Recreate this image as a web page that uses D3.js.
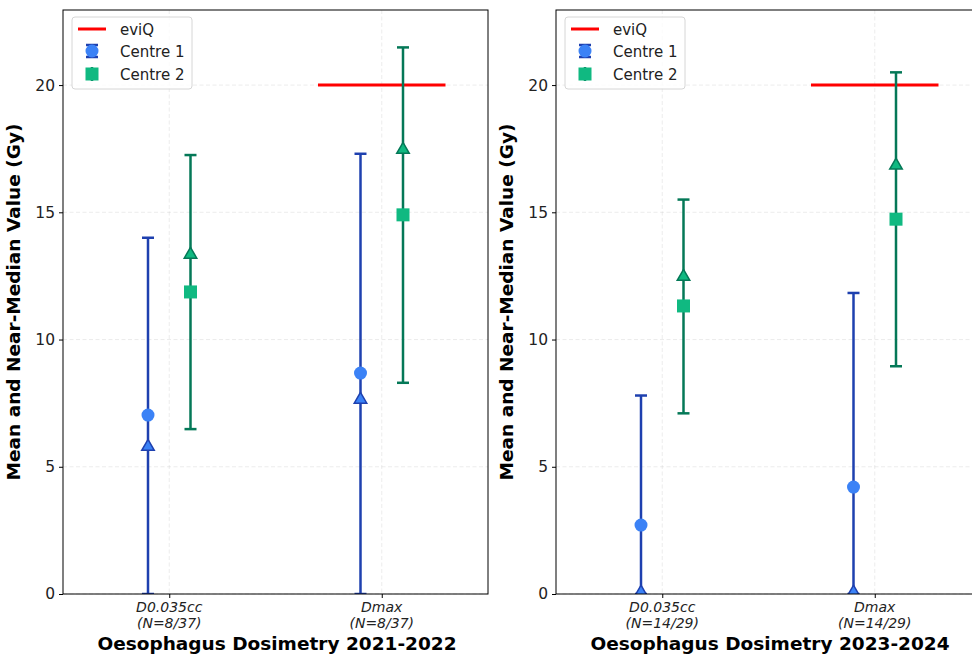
<!DOCTYPE html>
<html>
<head>
<meta charset="utf-8">
<script src="https://cdn.jsdelivr.net/npm/d3@7"></script>
<style>
  body { margin: 0; background: #fff; overflow: hidden; }
  svg { display: block; font-family: "DejaVu Sans", sans-serif; }
</style>
</head>
<body>
<svg id="chart" width="972" height="657"></svg>
<script>
// categories and labels
const categories = ["D0.035cc", "Dmax"];
const nLabels2122 = ["(N=8/37)", "(N=8/37)"];
const nLabels2324 = ["(N=14/29)", "(N=14/29)"];
const yTicks = [0, 5, 10, 15, 20];

// 2021-2022 values (Gy)
const c1Mean2122 = [7.03, 8.68];
const c1Median2122 = [5.85, 7.7];
const c1Low2122 = [0, 0];
const c1High2122 = [14.0, 17.3];
const c2Mean2122 = [11.87, 14.9];
const c2Median2122 = [13.4, 17.52];
const c2Low2122 = [6.48, 8.3];
const c2High2122 = [17.25, 21.48];

// 2023-2024 values (Gy)
const c1Mean2324 = [2.71, 4.2];
const c1Median2324 = [0.12, 0.12];
const c1Low2324 = [0, 0];
const c1High2324 = [7.8, 11.83];
const c2Mean2324 = [11.32, 14.73];
const c2Median2324 = [12.53, 16.9];
const c2Low2324 = [7.1, 8.95];
const c2High2324 = [15.5, 20.5];

// eviQ constraint (only for Dmax)
const eviQ = [null, 20];

const svg = d3.select("#chart");

const c1 = { fill: "#3b82f6", edge: "#1e40af" };
const c2 = { fill: "#10b981", edge: "#047857" };

function drawPanel(left, title, nLabels, s1, s2, id) {
  const top = 10, bottom = 594, width = 425;

  const x = d3.scaleLinear().domain([-0.5, 1.5]).range([left, left + width]);
  const y = d3.scaleLinear().domain([0, 22.95]).range([bottom, top]);

  const g = svg.append("g");

  g.append("clipPath").attr("id", "clip" + id)
    .append("rect")
    .attr("x", left).attr("y", top)
    .attr("width", width).attr("height", bottom - top);

  // grid
  g.selectAll(".gy").data(yTicks).join("line")
    .attr("x1", left).attr("x2", left + width)
    .attr("y1", d => y(d)).attr("y2", d => y(d))
    .attr("stroke", "#b0b0b0").attr("stroke-opacity", 0.3)
    .attr("stroke-dasharray", "4,2.5").attr("stroke-width", 0.8);
  g.selectAll(".gx").data(categories).join("line")
    .attr("x1", (d, i) => x(i)).attr("x2", (d, i) => x(i))
    .attr("y1", top).attr("y2", bottom)
    .attr("stroke", "#b0b0b0").attr("stroke-opacity", 0.3)
    .attr("stroke-dasharray", "4,2.5").attr("stroke-width", 0.8);

  const plot = g.append("g").attr("clip-path", `url(#clip${id})`);

  // eviQ line
  eviQ.forEach((v, i) => {
    if (v == null) return;
    plot.append("line")
      .attr("x1", x(i - 0.3)).attr("x2", x(i + 0.3))
      .attr("y1", y(v)).attr("y2", y(v))
      .attr("stroke", "red").attr("stroke-width", 3);
  });

  const series = [
    { s: s1, off: -0.1, col: c1, shape: "circle" },
    { s: s2, off: 0.1, col: c2, shape: "square" }
  ];

  series.forEach(({ s, off, col, shape }) => {
    categories.forEach((c, i) => {
      const cx = x(i + off);
      plot.append("line")
        .attr("x1", cx).attr("x2", cx)
        .attr("y1", y(s.low[i])).attr("y2", y(s.high[i]))
        .attr("stroke", col.edge).attr("stroke-width", 2.5);
      [s.low[i], s.high[i]].forEach(v => {
        plot.append("line")
          .attr("x1", cx - 6).attr("x2", cx + 6)
          .attr("y1", y(v)).attr("y2", y(v))
          .attr("stroke", col.edge).attr("stroke-width", 2.5);
      });
      if (shape === "circle") {
        plot.append("circle")
          .attr("cx", cx).attr("cy", y(s.mean[i])).attr("r", 6.5)
          .attr("fill", col.fill);
      } else {
        plot.append("rect")
          .attr("x", cx - 6.5).attr("y", y(s.mean[i]) - 6.5)
          .attr("width", 13).attr("height", 13)
          .attr("fill", col.fill);
      }
      plot.append("path")
        .attr("d", d3.symbol(d3.symbolTriangle, 68)())
        .attr("transform", `translate(${cx},${y(s.median[i]) + 1.5})`)
        .attr("fill", col.fill).attr("stroke", col.edge).attr("stroke-width", 1.5);
    });
  });

  // spines
  g.append("rect")
    .attr("x", left).attr("y", top)
    .attr("width", width).attr("height", bottom - top)
    .attr("fill", "none").attr("stroke", "#000").attr("stroke-width", 1);

  // y axis
  const yAxis = g.append("g")
    .attr("transform", `translate(${left},0)`)
    .call(d3.axisLeft(y).tickValues(yTicks).tickSize(4).tickPadding(4));
  yAxis.select(".domain").remove();
  yAxis.selectAll("text").attr("font-size", 15.5).attr("fill", "#222")
    .style("font-family", "DejaVu Sans");

  // x axis
  const xAxis = g.append("g")
    .attr("transform", `translate(0,${bottom})`)
    .call(d3.axisBottom(x).tickValues([0, 1]).tickSize(4).tickFormat(""));
  xAxis.select(".domain").remove();

  categories.forEach((c, i) => {
    const t = g.append("text")
      .attr("x", x(i)).attr("y", bottom + 18)
      .attr("text-anchor", "middle")
      .attr("font-size", 14).attr("font-style", "italic").attr("fill", "#222");
    t.append("tspan").attr("x", x(i)).text(c);
    t.append("tspan").attr("x", x(i)).attr("dy", 16).text(nLabels[i]);
  });

  g.append("text")
    .attr("x", left + 214).attr("y", 650)
    .attr("text-anchor", "middle")
    .attr("font-size", 18.5).attr("font-weight", "bold")
    .text(title);

  g.append("text")
    .attr("transform", `translate(${left - 43},${(top + bottom) / 2}) rotate(-90)`)
    .attr("text-anchor", "middle")
    .attr("font-size", 18.5).attr("font-weight", "bold")
    .text("Mean and Near-Median Value (Gy)");

  // legend
  const lg = g.append("g").attr("transform", `translate(${left + 9},17)`);
  lg.append("rect")
    .attr("width", 120).attr("height", 72).attr("rx", 3)
    .attr("fill", "#fff").attr("fill-opacity", 0.8)
    .attr("stroke", "#d6d6d6").attr("stroke-width", 1);
  lg.append("line")
    .attr("x1", 6).attr("x2", 34).attr("y1", 12).attr("y2", 12)
    .attr("stroke", "red").attr("stroke-width", 3);
  // Centre 1 handle
  lg.append("line").attr("x1", 20).attr("x2", 20).attr("y1", 28).attr("y2", 40)
    .attr("stroke", c1.edge).attr("stroke-width", 2.5);
  [28, 40].forEach(v => lg.append("line").attr("x1", 14).attr("x2", 26)
    .attr("y1", v).attr("y2", v).attr("stroke", c1.edge).attr("stroke-width", 2.5));
  lg.append("circle").attr("cx", 20).attr("cy", 34).attr("r", 6.5).attr("fill", c1.fill);
  // Centre 2 handle
  lg.append("line").attr("x1", 20).attr("x2", 20).attr("y1", 50).attr("y2", 64)
    .attr("stroke", c2.edge).attr("stroke-width", 2.5);
  lg.append("rect").attr("x", 13.5).attr("y", 50.5).attr("width", 13).attr("height", 13)
    .attr("fill", c2.fill);

  const names = ["eviQ", "Centre 1", "Centre 2"];
  names.forEach((n, i) => {
    lg.append("text")
      .attr("x", 48).attr("y", 17.5 + i * 22.5)
      .attr("font-size", 15).attr("fill", "#222")
      .text(n);
  });
}

drawPanel(63, "Oesophagus Dosimetry 2021-2022", nLabels2122,
  { mean: c1Mean2122, median: c1Median2122, low: c1Low2122, high: c1High2122 },
  { mean: c2Mean2122, median: c2Median2122, low: c2Low2122, high: c2High2122 }, 1);

drawPanel(556, "Oesophagus Dosimetry 2023-2024", nLabels2324,
  { mean: c1Mean2324, median: c1Median2324, low: c1Low2324, high: c1High2324 },
  { mean: c2Mean2324, median: c2Median2324, low: c2Low2324, high: c2High2324 }, 2);
</script>
</body>
</html>
